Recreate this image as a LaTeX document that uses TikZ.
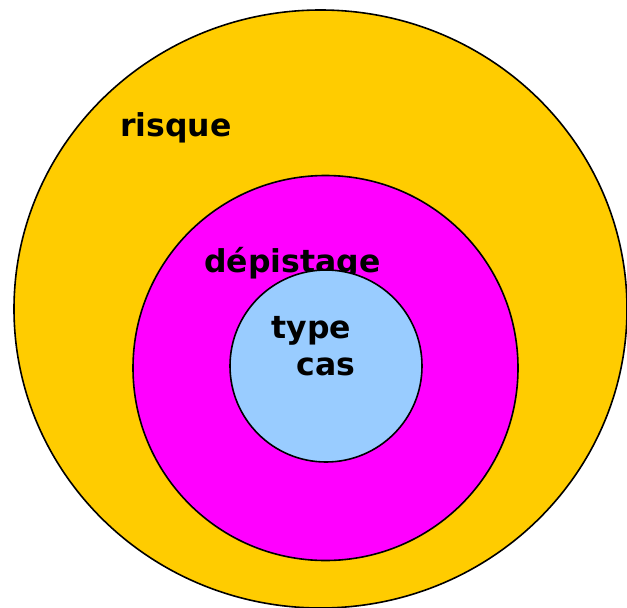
\documentclass[tikz,border=0pt]{standalone}
\usepackage{fontspec}
\setmainfont{DejaVu Sans}
\definecolor{jaune}{HTML}{FFCC00}
\definecolor{rose}{HTML}{FF00FF}
\definecolor{bleu}{HTML}{99CCFF}
\tikzset{mot/.style={anchor=base, font=\fontsize{31.5}{36}\selectfont\bfseries}}
\begin{document}
\begin{tikzpicture}[x=1pt, y=-1pt, line width=1.6pt]
	\useasboundingbox (0, 0) rectangle (627, 608);
	\draw[fill=jaune] (320.5, 309) ellipse (306.5 and 299);
	\node[mot] (risque) at (176, 136) {risque};
	\draw[fill=rose] (325.5, 368) circle (192.5);
	\node[mot] (depistage) at (292.5, 272) {dépistage};
	\draw[fill=bleu] (326, 366) circle (96);
	\node[mot] (type) at (311.5, 338) {type};
	\node[mot] (cas) at (326, 375) {cas};
\end{tikzpicture}
\end{document}
